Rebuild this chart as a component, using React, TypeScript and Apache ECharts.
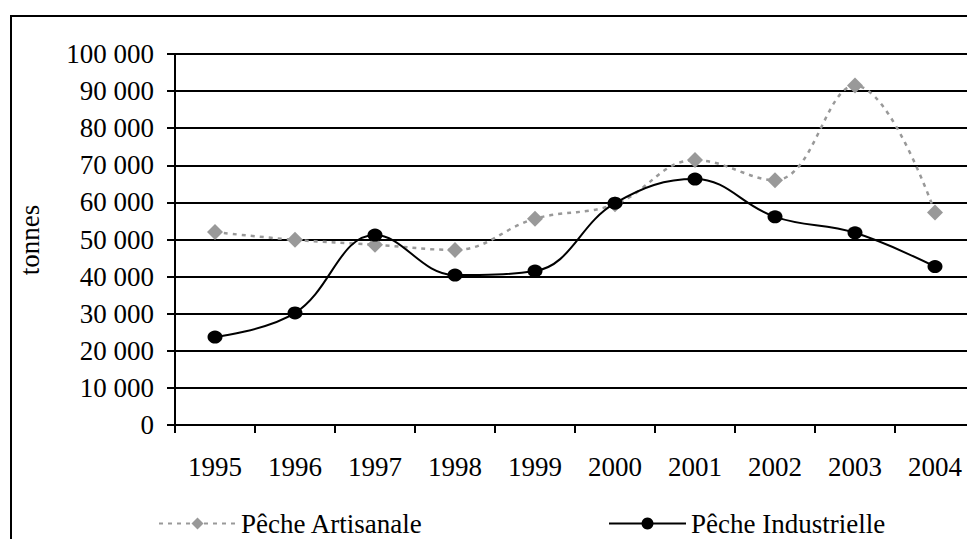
import React, { useEffect, useRef } from "react";
import * as echarts from "echarts";

const years = ["1995", "1996", "1997", "1998", "1999", "2000", "2001", "2002", "2003", "2004"];
const artisanale = [52000, 49900, 48600, 47200, 55600, 59500, 71400, 66000, 91500, 57300];
const industrielle = [23700, 30200, 51200, 40400, 41500, 59800, 66300, 56100, 51800, 42700];
const seriesNames = ["Pêche Artisanale", "Pêche Industrielle"];
const yTitle = "tonnes";

const FONT = "'Liberation Serif', 'DejaVu Serif', serif";
const FS = 27;

const fmt = (v: number) => String(v).replace(/\B(?=(\d{3})+(?!\d))/g, " ");

export default function App() {
  const ref = useRef<HTMLDivElement>(null);
  useEffect(() => {
    if (!ref.current) return;
    const chart = echarts.init(ref.current, null, { renderer: "svg" });
    chart.setOption({
      animation: false,
      backgroundColor: "#ffffff",
      textStyle: { fontFamily: FONT },
      grid: { left: 175, top: 54, bottom: 114, right: 0, containLabel: false },
      graphic: [
        {
          type: "rect",
          shape: { x: 11, y: 16, width: 1000, height: 600 },
          style: { fill: "none", stroke: "#000", lineWidth: 2 },
          silent: true,
          z: -1,
        },
        {
          type: "text",
          x: 30,
          y: 240,
          rotation: Math.PI / 2,
          style: {
            text: yTitle,
            font: `${FS}px ${FONT}`,
            fill: "#000",
            textAlign: "center",
            textVerticalAlign: "middle",
          },
        },
      ],
      legend: [
        {
          data: [seriesNames[0]],
          left: 153,
          top: 505,
          itemWidth: 77,
          itemHeight: 15,
          itemGap: 10,
          textStyle: { fontFamily: FONT, fontSize: FS, color: "#000" },
        },
        {
          data: [seriesNames[1]],
          left: 603,
          top: 505,
          itemWidth: 77,
          itemHeight: 15,
          itemGap: 10,
          textStyle: { fontFamily: FONT, fontSize: FS, color: "#000" },
        },
      ],
      xAxis: {
        type: "category",
        data: years,
        boundaryGap: true,
        axisLine: { lineStyle: { color: "#000", width: 2 } },
        axisTick: { show: true, length: 8, lineStyle: { color: "#000", width: 2 } },
        axisLabel: { color: "#000", fontSize: FS, fontFamily: FONT, margin: 28, interval: 0 },
        splitLine: { show: false },
      },
      yAxis: {
        type: "value",
        min: 0,
        max: 100000,
        interval: 10000,
        axisLine: { show: true, lineStyle: { color: "#000", width: 2 } },
        axisTick: { show: true, length: 8, lineStyle: { color: "#000", width: 2 } },
        axisLabel: { color: "#000", fontSize: FS, fontFamily: FONT, margin: 21, formatter: fmt },
        splitLine: { show: true, lineStyle: { color: "#000", width: 2 } },
      },
      series: [
        {
          name: seriesNames[0],
          type: "line",
          data: artisanale,
          smooth: 0.4,
          symbol: "diamond",
          symbolSize: 16,
          itemStyle: { color: "#999999" },
          lineStyle: { color: "#999999", width: 2.5, type: [4, 5] },
          z: 2,
        },
        {
          name: seriesNames[1],
          type: "line",
          data: industrielle,
          smooth: 0.4,
          symbol: "circle",
          symbolSize: [15, 13],
          itemStyle: { color: "#000000" },
          lineStyle: { color: "#000000", width: 2 },
          z: 3,
        },
      ],
    });
    return () => chart.dispose();
  }, []);
  return (
    <div style={{ position: "absolute", left: 0, top: 0, width: 967, height: 539, overflow: "hidden" }}>
      <div ref={ref} style={{ width: 975, height: 539 }} />
    </div>
  );
}
